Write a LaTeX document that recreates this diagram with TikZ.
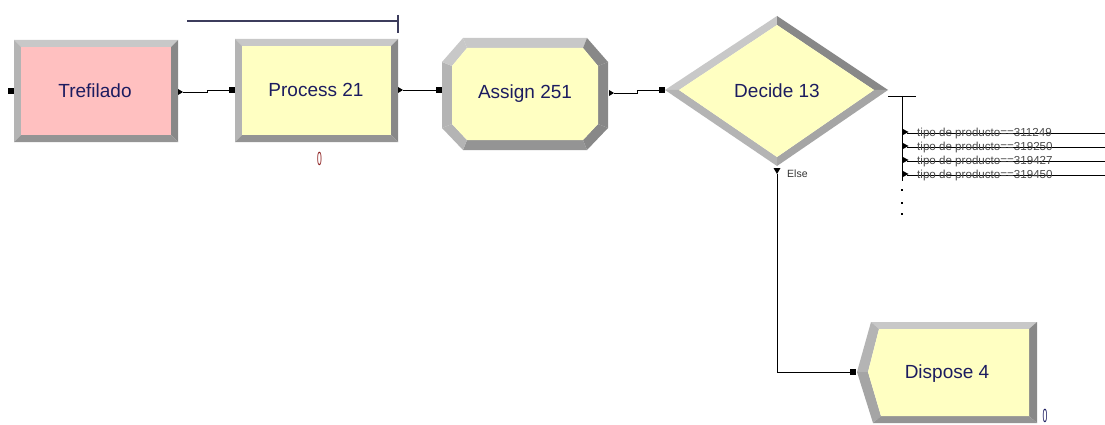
\documentclass[tikz,border=0pt]{standalone}
\usepackage{fontspec}
\setmainfont{Liberation Sans}
\usepackage{graphicx}

\definecolor{modyellow}{RGB}{255,255,194}
\definecolor{modpink}{RGB}{255,192,192}
\definecolor{bvlight}{RGB}{200,200,200}
\definecolor{bvmid}{RGB}{180,180,180}
\definecolor{bvlow}{RGB}{165,165,165}
\definecolor{bvdark}{RGB}{136,136,136}
\definecolor{bvshade}{RGB}{148,148,148}
\definecolor{modtext}{RGB}{28,28,96}
\definecolor{countred}{RGB}{140,30,30}
\definecolor{branchtext}{RGB}{75,75,75}
\definecolor{barline}{RGB}{60,60,92}

\tikzset{
  modlabel/.style={font=\fontsize{19}{22}\selectfont, text=modtext, inner sep=0pt, anchor=base},
  countlabel/.style={font=\fontsize{19}{19}\selectfont, inner sep=0pt, anchor=base},
  branchlabel/.style={font=\fontsize{11.6}{12}\selectfont, text=branchtext, inner sep=0pt, anchor=base west},
  elselabel/.style={font=\fontsize{10.5}{12}\selectfont, text=black!80, inner sep=0pt, anchor=base west},
  conn/.style={line width=0.9pt, black},
  entrysq/.style={rectangle, fill=black, minimum size=6pt, inner sep=0pt},
}

% rectangular module with bevelled frame: x1, y1, x2, y2, bevel width, face colour
\newcommand{\bevelbox}[6]{%
  \fill[bvlight] (#1,#2) -- (#3,#2) -- (#3-#5,#2+#5) -- (#1+#5,#2+#5) -- cycle;
  \fill[bvmid] (#1,#2) -- (#1+#5,#2+#5) -- (#1+#5,#4-#5) -- (#1,#4) -- cycle;
  \fill[bvdark] (#3,#2) -- (#3,#4) -- (#3-#5,#4-#5) -- (#3-#5,#2+#5) -- cycle;
  \fill[bvshade] (#1,#4) -- (#3,#4) -- (#3-#5,#4-#5) -- (#1+#5,#4-#5) -- cycle;
  \fill[#6] (#1+#5,#2+#5) rectangle (#3-#5,#4-#5);
}

\begin{document}
\begin{tikzpicture}[x=1pt,y=-1pt]
\useasboundingbox (0,0) rectangle (1105,425);
\fill[white] (0,0) rectangle (1105,425);

% ---------- Trefilado ----------
\bevelbox{14}{40}{178}{142}{7}{modpink}
\node[modlabel] (tref) at (95,98) {Trefilado};
\node[entrysq] (tref-in) at (11,91) {};
\coordinate (tref-out) at (183,92);
\fill (tref-out) -- ++(-5,-3) -- ++(0,6) -- cycle;

% ---------- Process 21 ----------
\draw[barline, line width=1.1pt] (187,21) coordinate (bar-a) -- (398,21) coordinate (bar-b);
\draw[barline, line width=1.1pt] (398,15) coordinate (tick-a) -- (398,33) coordinate (tick-b);
\bevelbox{235}{39}{398}{142}{7}{modyellow}
\node[modlabel] (proc) at (316,97) {Process 21};
\node[countlabel, text=countred] (proc-count) at (319.5,165) {\scalebox{0.45}[1]{0}};
\node[entrysq] (proc-in) at (232,90) {};
\coordinate (proc-out) at (403,90);
\fill (proc-out) -- ++(-5,-3) -- ++(0,6) -- cycle;

% ---------- Assign 251 (octagon) ----------
\coordinate (a1) at (463,38);  \coordinate (a2) at (587,38);
\coordinate (a3) at (608,62);  \coordinate (a4) at (608,128);
\coordinate (a5) at (587,150); \coordinate (a6) at (463,150);
\coordinate (a7) at (442,128); \coordinate (a8) at (442,62);
\coordinate (b1) at (467,48);  \coordinate (b2) at (583,48);
\coordinate (b3) at (598,66);  \coordinate (b4) at (598,124);
\coordinate (b5) at (583,140); \coordinate (b6) at (467,140);
\coordinate (b7) at (452,124); \coordinate (b8) at (452,66);
\fill[bvlight] (a1) -- (a2) -- (b2) -- (b1) -- cycle;
\fill[bvdark]  (a2) -- (a3) -- (b3) -- (b2) -- cycle;
\fill[bvdark]  (a3) -- (a4) -- (b4) -- (b3) -- cycle;
\fill[bvdark]  (a4) -- (a5) -- (b5) -- (b4) -- cycle;
\fill[bvshade] (a5) -- (a6) -- (b6) -- (b5) -- cycle;
\fill[bvmid]   (a6) -- (a7) -- (b7) -- (b6) -- cycle;
\fill[bvmid]   (a7) -- (a8) -- (b8) -- (b7) -- cycle;
\fill[bvlight] (a8) -- (a1) -- (b1) -- (b8) -- cycle;
\fill[modyellow] (b1) -- (b2) -- (b3) -- (b4) -- (b5) -- (b6) -- (b7) -- (b8) -- cycle;
\node[modlabel] (asg) at (525,99) {Assign 251};
\node[entrysq] (asg-in) at (439,90) {};
\coordinate (asg-out) at (614,93);
\fill (asg-out) -- ++(-5,-3) -- ++(0,6) -- cycle;

% ---------- Decide 13 (diamond) ----------
\coordinate (dl) at (665,90);  \coordinate (dt) at (777,16);
\coordinate (dr) at (888,90);  \coordinate (db) at (777,166);
\coordinate (il) at (679,90);  \coordinate (it) at (777,25);
\coordinate (ir) at (874,90);  \coordinate (ib) at (777,157);
\fill[bvlight] (dl) -- (dt) -- (it) -- (il) -- cycle;
\fill[bvdark]  (dt) -- (dr) -- (ir) -- (it) -- cycle;
\fill[bvlow]   (dr) -- (db) -- (ib) -- (ir) -- cycle;
\fill[bvmid]   (db) -- (dl) -- (il) -- (ib) -- cycle;
\fill[modyellow] (il) -- (it) -- (ir) -- (ib) -- cycle;
\node[modlabel] (dec) at (777,98) {Decide 13};
\node[entrysq] (dec-in) at (662,90) {};

% conditional exits
\coordinate (dec-right) at (888,96);
\coordinate (stub-end) at (916,96);
\coordinate (bus-top) at (902,96);
\coordinate (bus-bot) at (902,181);
\draw[line width=0.8pt] (dec-right) -- (stub-end);
\draw[line width=0.8pt] (bus-top) -- (bus-bot);
\foreach \yy/\code [count=\i] in {133/311249,147/319250,161/319427,175/319450}{
  \coordinate (br\i) at (902,\yy);
  \coordinate (br\i-end) at (1105,\yy);
  \draw[line width=0.8pt] (br\i) ++(5,0) -- (br\i-end);
  \fill (br\i) ++(6.5,-1) -- ++(-6.5,-3.5) -- ++(0,7) -- cycle;
  \node[branchlabel] (lab\i) at (917,\yy+3.3) {tipo de producto==\code};
}
\foreach \yy [count=\i] in {190,203,214}{
  \fill (901,\yy-1) rectangle (903,\yy+1);
}

% else exit
\coordinate (dec-else) at (777,174);
\fill (dec-else) -- ++(-3.5,-6) -- ++(7,0) -- cycle;
\node[elselabel] (else) at (787,177.5) {Else};

% ---------- Dispose 4 ----------
\coordinate (p1) at (857,372);  \coordinate (p2) at (871,322);
\coordinate (p3) at (1037,322); \coordinate (p4) at (1037,423);
\coordinate (p5) at (873,423);
\coordinate (q1) at (868,372);  \coordinate (q2) at (879,329);
\coordinate (q3) at (1029,329); \coordinate (q4) at (1029,416);
\coordinate (q5) at (881,416);
\fill[bvlight] (p2) -- (p3) -- (q3) -- (q2) -- cycle;
\fill[bvmid]   (p1) -- (p2) -- (q2) -- (q1) -- cycle;
\fill[bvlow]   (p1) -- (p5) -- (q5) -- (q1) -- cycle;
\fill[bvdark]  (p3) -- (p4) -- (q4) -- (q3) -- cycle;
\fill[bvshade] (p5) -- (p4) -- (q4) -- (q5) -- cycle;
\fill[modyellow] (q1) -- (q2) -- (q3) -- (q4) -- (q5) -- cycle;
\node[modlabel] (disp) at (947,378) {Dispose 4};
\node[countlabel, text=modtext] (disp-count) at (1045,422) {\scalebox{0.45}[1]{0}};
\node[entrysq] (disp-in) at (853,372) {};

% ---------- connectors ----------
\draw[conn] (tref-out) -- ++(24,0) |- (proc-in.west);
\draw[conn] (proc-out) -- (asg-in.west);
\draw[conn] (asg-out) -- ++(23,0) |- (dec-in.west);
\draw[conn] (dec-else) |- (disp-in.west);
\end{tikzpicture}
\end{document}
